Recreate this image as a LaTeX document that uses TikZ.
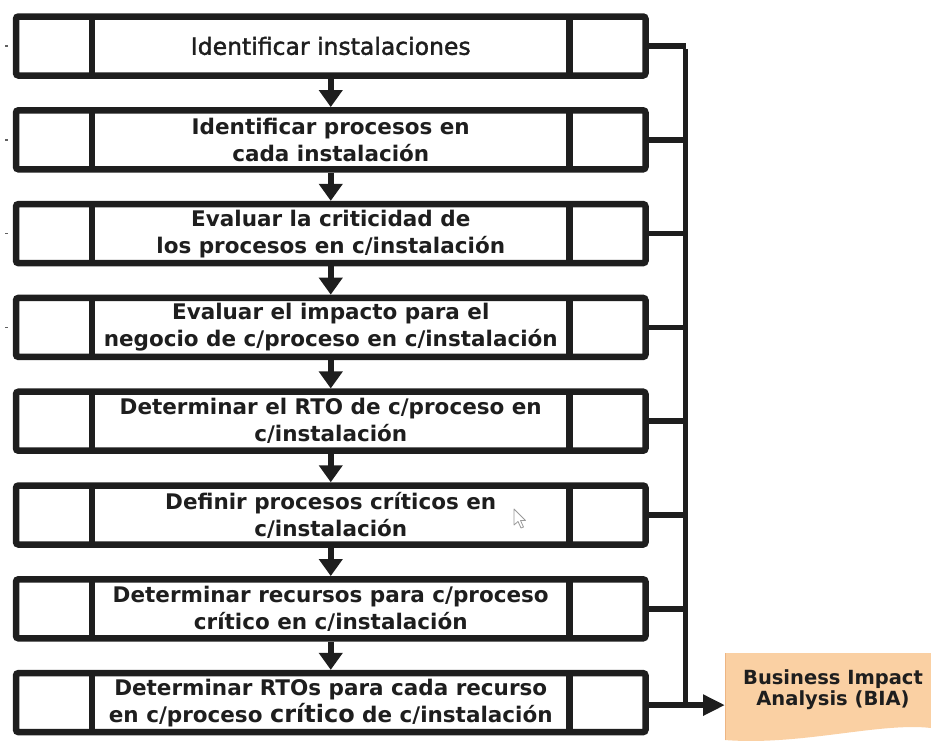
\documentclass[tikz,border=0pt]{standalone}
\usepackage{fontspec}
\setmainfont{DejaVu Sans}
\newfontfamily\mediumface[FakeBold=1.6]{DejaVu Sans}
\usetikzlibrary{arrows.meta,calc}
\definecolor{frame}{HTML}{1E1E1E}
\definecolor{peach}{HTML}{FAD0A3}
\definecolor{peachedge}{HTML}{EDB583}
\begin{document}
\begin{tikzpicture}[x=1pt,y=-1pt,
  stepbox/.style={draw=frame, line width=6.5pt, rounded corners=2.5pt, fill=white,
    minimum width=629.5pt, minimum height=59pt, inner sep=0pt, align=center,
    text=frame, font=\bfseries\fontsize{21.5}{27}\selectfont},
  divider/.style={draw=frame, line width=6.5pt},
  flowarrow/.style={draw=frame, line width=6pt, -{Triangle[length=17pt,width=23pt]}},
  busline/.style={draw=frame, line width=5.5pt},
  tick/.style={draw=frame!70, line width=1.5pt}]
\useasboundingbox (0,0) rectangle (931,742);

% process steps
\node[stepbox, font=\mediumface\fontsize{23.5}{27}\selectfont] (b1) at (330.75,46) {Identificar instalaciones};
\node[stepbox] (b2) at (330.75,139.8) {Identificar procesos en\\cada instalación};
\node[stepbox] (b3) at (330.75,233.6) {Evaluar la criticidad de\\los procesos en c/instalación};
\node[stepbox] (b4) at (330.75,327.4) {Evaluar el impacto para el\\negocio de c/proceso en c/instalación};
\node[stepbox] (b5) at (330.75,421.2) {Determinar el RTO de c/proceso en\\c/instalación};
\node[stepbox] (b6) at (330.75,515) {Definir procesos críticos en\\c/instalación};
\node[stepbox] (b7) at (330.75,608.8) {Determinar recursos para c/proceso\\crítico en c/instalación};
\node[stepbox] (b8) at (330.75,702.6) {Determinar RTOs para cada recurso\\en c/proceso {\fontsize{24}{27}\selectfont crítico} de c/instalación};

% side compartments of each step
\foreach \b in {b1,b2,b3,b4,b5,b6,b7,b8}{
  \draw[divider] ([yshift=-3.25pt]\b.north -| 92,0) -- ([yshift=3.25pt]\b.south -| 92,0);
  \draw[divider] ([yshift=-3.25pt]\b.north -| 569.5,0) -- ([yshift=3.25pt]\b.south -| 569.5,0);
}

% small marks on the left of the first steps
\foreach \b in {b1,b2,b3,b4}{
  \draw[tick] (\b.west -| 5,0) -- (\b.west -| 8,0);
}

% flow between steps
\foreach \a/\c in {b1/b2,b2/b3,b3/b4,b4/b5,b5/b6,b6/b7,b7/b8}{
  \draw[flowarrow] (\a.south) -- (\c.north);
}

% result document
\fill[peach] (725,653) -- (931,653) -- (931,728)
  .. controls (880,722) and (800,746) .. (725,740) -- cycle;
\draw[peachedge, line width=0.8pt] (725.4,653) -- (725.4,740);
\node[font=\bfseries\fontsize{19.5}{21}\selectfont, align=center, text=frame,
  minimum width=216pt, minimum height=60pt, inner sep=0pt] (bia) at (833,690)
  {Business Impact\\Analysis (BIA)};

% collecting bus on the right
\coordinate (bustop) at (685.5,46);
\foreach \b in {b1,b2,b3,b4,b5,b6,b7}{
  \draw[busline] (\b.east) -- (\b.east -| bustop);
}
\draw[busline] ([yshift=-2.75pt]b1.east -| bustop) -- ([yshift=-2.5pt]b8.east -| bustop);
\draw[draw=frame, line width=5.5pt, -{Triangle[length=22pt,width=20pt]}]
  ([yshift=-2.5pt]b8.east) -- ([yshift=-2.5pt]b8.east -| 725,0);

% mouse pointer
\draw[gray!80, line width=0.8pt, fill=white, line join=round]
  (514,509) -- (514,525) -- (518,521.5) -- (521,528) -- (523.5,527) -- (520.5,520.5)
  -- (525.5,520.5) -- cycle;
\end{tikzpicture}
\end{document}
